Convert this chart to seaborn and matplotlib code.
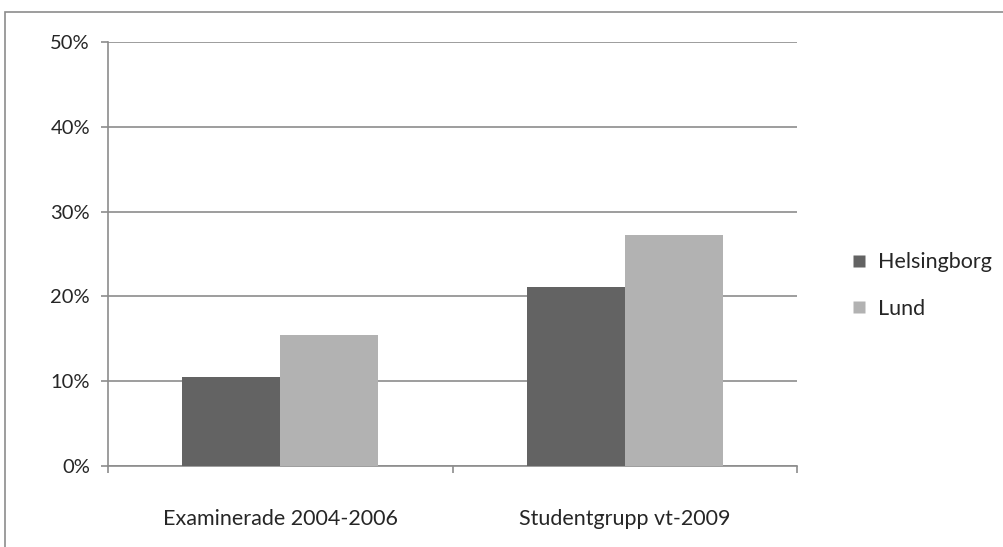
import pandas as pd
import seaborn as sns
import matplotlib.pyplot as plt
from matplotlib.patches import Rectangle
from matplotlib.ticker import PercentFormatter

# Data
groups = ['Examinerade 2004-2006', 'Studentgrupp vt-2009']
cities = ['Helsingborg', 'Lund']
helsingborg = [10.5, 21.1]
lund = [15.4, 27.2]

df = pd.DataFrame({
    'grupp': groups * 2,
    'ort': [cities[0]] * 2 + [cities[1]] * 2,
    'andel': helsingborg + lund,
})

sns.set_style('white')
plt.rcParams['font.family'] = ['Lato', 'DejaVu Sans']

fig = plt.figure(figsize=(10.04, 5.47), dpi=100)
ax = fig.add_axes([0.1076, 0.1481, 0.6863, 0.7751])

grid_col = '#8c8c8c'
sns.barplot(data=df, x='grupp', y='andel', hue='ort', hue_order=cities,
            palette=['#636363', '#b2b2b2'], width=0.57, saturation=1,
            edgecolor='none', ax=ax, zorder=3, legend=False)

ax.set_ylim(0, 50)
ax.set_xlim(-0.5, 1.5)
ax.set_yticks(range(0, 51, 10))
ax.yaxis.set_major_formatter(PercentFormatter(decimals=0))
ax.yaxis.grid(True, color=grid_col, lw=1.2, zorder=0)
ax.set_axisbelow(True)
ax.set_xlabel('')
ax.set_ylabel('')

for s in ['top', 'right']:
    ax.spines[s].set_visible(False)
for s in ['left', 'bottom']:
    ax.spines[s].set_color(grid_col)
    ax.spines[s].set_linewidth(1.2)

ax.tick_params(axis='y', length=5, width=1.2, color=grid_col, pad=8,
               labelsize=14.5, left=True)
# x ticks at category boundaries, labels at centres
ax.set_xticks([-0.5, 0.5, 1.5])
ax.set_xticklabels([])
ax.set_xticks([0, 1], minor=True)
ax.set_xticklabels(groups, minor=True)
ax.tick_params(axis='x', which='major', length=5, width=1.2, color=grid_col,
               bottom=True, direction='out')
ax.tick_params(axis='x', which='minor', length=0, pad=31, labelsize=15.5)

# legend
colors = {'Helsingborg': '#636363', 'Lund': '#b2b2b2'}
handles = [plt.Line2D([], [], marker='s', ls='', markersize=8,
                      markerfacecolor=colors[c], markeredgecolor='none')
           for c in cities]
fig.legend(handles, cities, loc='center left', bbox_to_anchor=(0.826, 0.478),
           frameon=False, fontsize=15.5, handletextpad=0.35,
           labelspacing=1.25, handlelength=1.0)

# outer chart frame
fig.patches.append(Rectangle((5 / 1004, -0.1), 1.1, (547 - 12) / 547 + 0.1,
                             transform=fig.transFigure, fill=False,
                             edgecolor=grid_col, lw=1.2))

fig.savefig('out.png', dpi=100)
